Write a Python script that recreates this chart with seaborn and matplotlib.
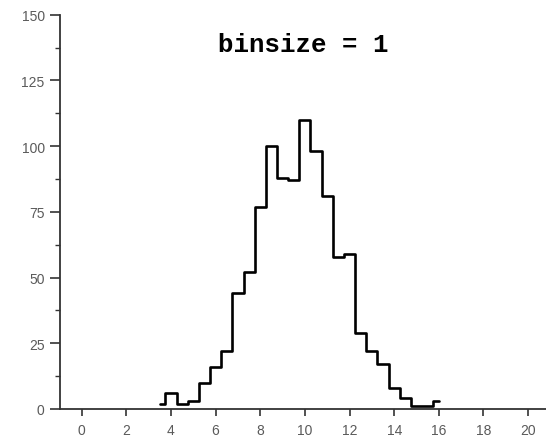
import matplotlib
matplotlib.use("Agg")
import matplotlib.pyplot as plt
from matplotlib.ticker import MultipleLocator
import seaborn as sns
import pandas as pd

# Bin centres (half-unit spacing) and counts
bin_centers = [3.5, 4.0, 4.5, 5.0, 5.5, 6.0, 6.5, 7.0, 7.5, 8.0, 8.5, 9.0, 9.5,
               10.0, 10.5, 11.0, 11.5, 12.0, 12.5, 13.0, 13.5, 14.0, 14.5, 15.0,
               15.5, 16.0]
counts = [2, 6, 2, 3, 10, 16, 22, 44, 52, 77, 100, 88, 87,
          110, 98, 81, 58, 59, 29, 22, 17, 8, 4, 1, 1, 3]
x_ticks = [0, 2, 4, 6, 8, 10, 12, 14, 16, 18, 20]
y_ticks = [0, 25, 50, 75, 100, 125, 150]
title_text = "binsize = 1"

df = pd.DataFrame({"value": bin_centers, "count": counts})

sns.set_style("ticks")
plt.rcParams["font.family"] = ["Liberation Sans Narrow", "Liberation Sans", "DejaVu Sans"]

fig = plt.figure(figsize=(5.46, 4.39), dpi=100)
ax = fig.add_axes([60 / 546, 1 - 410 / 439, 1 - 60 / 546, (410 - 15.7) / 439])

sns.lineplot(data=df, x="value", y="count", ax=ax, color="black",
             linewidth=1.9, drawstyle="steps-mid")

ax.set_xlim(-0.97, 20.8)
ax.set_ylim(0, 150)
ax.set_xticks(x_ticks)
ax.set_yticks(y_ticks)
ax.yaxis.set_minor_locator(MultipleLocator(12.5))
ax.set_xlabel("")
ax.set_ylabel("")

for side in ("top", "right"):
    ax.spines[side].set_visible(False)
for side in ("left", "bottom"):
    ax.spines[side].set_color("#333333")
    ax.spines[side].set_linewidth(1.3)

ax.tick_params(axis="both", which="major", colors="#333333", labelcolor="#5a5a5a",
               labelsize=10, width=1.2)
ax.tick_params(axis="y", which="major", length=7, pad=4)
ax.tick_params(axis="y", which="minor", length=3.5, width=1.0, colors="#333333")
ax.tick_params(axis="x", which="major", length=5, pad=5)

ax.text(0.5, 0.925, title_text, transform=ax.transAxes, ha="center", va="center",
        fontsize=18.5, fontweight="bold", color="black",
        family=["Liberation Mono", "DejaVu Sans Mono"])

fig.savefig("out.png", dpi=100)
